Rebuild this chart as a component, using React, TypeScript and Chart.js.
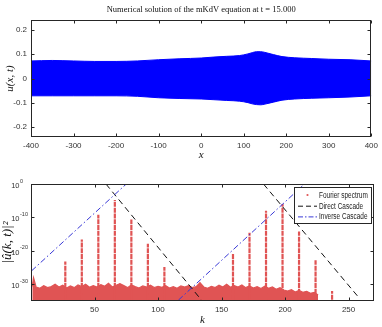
import React, { useEffect, useRef } from 'react';
import { Chart, registerables } from 'chart.js';
Chart.register(...registerables);

// ---------- Top panel data (envelope of the oscillating solution u(x,t)) ----------
const envX = [-400, -350, -300, -250, -200, -150, -100, -50, 0, 30, 60, 90, 110, 120, 130, 140, 150, 170, 190, 220, 260, 300, 350, 400];
const envUpper = [0.072, 0.074, 0.072, 0.070, 0.070, 0.072, 0.077, 0.081, 0.084, 0.088, 0.091, 0.094, 0.101, 0.106, 0.110, 0.110, 0.107, 0.098, 0.090, 0.085, 0.082, 0.079, 0.077, 0.072];
const envLower = [-0.071, -0.071, -0.071, -0.071, -0.071, -0.073, -0.079, -0.082, -0.084, -0.087, -0.090, -0.093, -0.099, -0.104, -0.107, -0.108, -0.105, -0.097, -0.089, -0.084, -0.081, -0.079, -0.076, -0.071];
const topXTicks = [-400, -300, -200, -100, 0, 100, 200, 300, 400];
const topYTicks = [-0.2, -0.1, 0, 0.1, 0.2];

// ---------- Bottom panel data (Fourier spectrum, exponents of 10) ----------
const noiseK = [1, 2, 4, 7, 10, 13, 16, 19, 22, 25, 28, 31, 34, 37, 40, 43, 46, 49, 52, 55, 58, 61, 64, 67, 70, 73, 76, 79, 82, 85, 88, 91, 94, 97, 100, 103, 106, 109, 112, 115, 118, 121, 124, 127, 130, 133, 136, 139, 142, 145, 148, 151, 154, 157, 160, 163, 166, 169, 172, 175, 178, 181, 184, 187, 190, 193, 196, 199, 202, 205, 208, 211, 214, 217, 220, 223, 226];
const noiseExp = [-30.6, -28.0, -30.8, -31.2, -30.4, -31.0, -30.7, -30.0, -30.8, -30.3, -31.1, -30.5, -31.0, -30.2, -30.7, -30.0, -30.9, -30.4, -30.8, -30.1, -30.6, -29.7, -30.8, -30.3, -29.8, -30.4, -31.0, -30.2, -30.7, -31.1, -30.5, -30.8, -30.3, -31.0, -30.6, -30.9, -30.4, -31.1, -30.7, -31.2, -30.5, -30.8, -30.4, -31.0, -30.7, -29.5, -30.8, -31.2, -30.6, -31.0, -30.3, -30.8, -30.0, -30.9, -30.4, -30.8, -30.2, -31.0, -30.5, -31.1, -30.7, -31.3, -30.6, -31.2, -30.8, -31.5, -31.0, -31.7, -32.0, -31.6, -32.3, -31.8, -32.4, -32.1, -32.7, -32.4, -33.2];
const peakK = [27, 40, 53, 66, 79, 92, 105, 159, 172, 185, 198, 211, 224, 237];
const peakExp = [-23.2, -16.6, -9.2, -4.8, -10.6, -17.9, -24.8, -20.9, -14.6, -8.0, -6.0, -14.2, -22.8, -32.0];
const peakBaseExp = -34.6;
const direct1K = [59, 135];
const direct1Exp = [0, -35.1];
const direct2K = [183, 257];
const direct2Exp = [0, -33.5];
const inverse1K = [0.4, 75];
const inverse1Exp = [-26, 0];
const inverse2K = [116, 215.3];
const inverse2Exp = [-34.75, 0];
const botXTicks = [50, 100, 150, 200, 250];
const botYExps = [0, -10, -20, -30];

const SANS = "'Liberation Sans', Arial, sans-serif";
const SERIF = "'Liberation Serif', 'DejaVu Serif', serif";
const AXIS = '#262626';
const TICK = '#333333';
const BLUE = '#0000ff';
const RED = '#e05454';
const LBLUE = '#3838d6';

function pts(ks: number[], es: number[]) {
  return ks.map((k, i) => ({ x: k, y: Math.pow(10, es[i]) }));
}

function narrowText(ctx: CanvasRenderingContext2D, text: string, x: number, y: number, sx: number) {
  ctx.save();
  ctx.translate(x, y);
  ctx.scale(sx, 1);
  ctx.fillText(text, 0, 0);
  ctx.restore();
}

function makeDecor(cfg: any) {
  return {
    id: 'decor',
    afterDraw(chart: any) {
      const { ctx, chartArea: a } = chart;
      const xs = chart.scales.x;
      const ys = chart.scales.y;
      ctx.save();
      ctx.setLineDash([]);
      ctx.strokeStyle = AXIS;
      ctx.lineWidth = 1;
      const L = Math.round(a.left) + 0.5;
      const R = Math.round(a.right) - 0.5;
      const T = Math.round(a.top) + 0.5;
      const B = Math.round(a.bottom) - 0.5;
      ctx.strokeRect(L, T, R - L, B - T);
      ctx.beginPath();
      cfg.xTicks.forEach((v: number) => {
        const p = Math.round(xs.getPixelForValue(v)) + 0.5;
        ctx.moveTo(p, B); ctx.lineTo(p, B - 3);
        ctx.moveTo(p, T); ctx.lineTo(p, T + 3);
      });
      cfg.yTicks.forEach((v: number) => {
        const p = Math.round(ys.getPixelForValue(v)) + 0.5;
        ctx.moveTo(L, p); ctx.lineTo(L + 3, p);
        ctx.moveTo(R, p); ctx.lineTo(R - 3, p);
      });
      ctx.stroke();

      ctx.fillStyle = '#111';
      if (cfg.title) {
        ctx.font = `8.5px ${SERIF}`;
        ctx.textAlign = 'center';
        ctx.textBaseline = 'middle';
        ctx.fillText(cfg.title, (a.left + a.right) / 2, cfg.titleY);
      }
      // x label
      ctx.font = `italic 11px ${SERIF}`;
      ctx.textAlign = 'center';
      ctx.textBaseline = 'middle';
      ctx.fillText(cfg.xLabel, (a.left + a.right) / 2, cfg.xLabelY);
      // y label
      ctx.save();
      ctx.translate(cfg.yLabelX, (a.top + a.bottom) / 2);
      ctx.rotate(-Math.PI / 2);
      ctx.font = `italic ${cfg.yLabelSize || 11}px ${SERIF}`;
      ctx.fillText(cfg.yLabel, 0, 0);
      ctx.restore();

      // log tick labels
      if (cfg.logExps) {
        ctx.fillStyle = TICK;
        cfg.logExps.forEach((e: number) => {
          const p = ys.getPixelForValue(Math.pow(10, e));
          ctx.font = `7.5px ${SANS}`;
          ctx.textAlign = 'right';
          ctx.textBaseline = 'middle';
          ctx.fillText('10', 19.5, p + 2);
          ctx.font = `5.5px ${SANS}`;
          ctx.textAlign = 'left';
          ctx.fillText(String(e), 20, p - 3);
        });
      }

      // legend
      if (cfg.legend) {
        const g = cfg.legend;
        ctx.fillStyle = '#ffffff';
        ctx.fillRect(g.x, g.y, g.w, g.h);
        ctx.strokeStyle = AXIS;
        ctx.lineWidth = 1;
        ctx.strokeRect(g.x + 0.5, g.y + 0.5, g.w, g.h);
        g.items.forEach((it: any, i: number) => {
          const yy = g.y + 8 + i * 10.7;
          const x0 = g.x + 4;
          const x1 = g.x + 23;
          if (it.kind === 'dot') {
            ctx.fillStyle = it.color;
            ctx.beginPath();
            ctx.arc((x0 + x1) / 2, yy, 1.1, 0, Math.PI * 2);
            ctx.fill();
          } else {
            ctx.strokeStyle = it.color;
            ctx.lineWidth = 1;
            ctx.setLineDash(it.dash);
            ctx.beginPath();
            ctx.moveTo(x0, yy + 0.5);
            ctx.lineTo(x1, yy + 0.5);
            ctx.stroke();
            ctx.setLineDash([]);
          }
          ctx.fillStyle = '#222';
          ctx.font = `8.5px ${SANS}`;
          ctx.textAlign = 'left';
          ctx.textBaseline = 'middle';
          narrowText(ctx, it.text, g.x + 25, yy + 0.5, 0.76);
        });
      }
      ctx.restore();
    },
  };
}

function baseScale(extra: any) {
  return Object.assign(
    {
      grid: { display: false, drawTicks: false },
      border: { display: false },
    },
    extra
  );
}

export default function App() {
  const topRef = useRef<HTMLCanvasElement>(null);
  const botRef = useRef<HTMLCanvasElement>(null);

  useEffect(() => {
    const top = new Chart(topRef.current as HTMLCanvasElement, {
      type: 'scatter',
      data: {
        datasets: [
          {
            data: envX.map((x, i) => ({ x, y: envUpper[i] })),
            showLine: true,
            borderColor: BLUE,
            backgroundColor: BLUE,
            borderWidth: 1,
            pointRadius: 0,
            fill: '+1',
            cubicInterpolationMode: 'monotone',
          } as any,
          {
            data: envX.map((x, i) => ({ x, y: envLower[i] })),
            showLine: true,
            borderColor: BLUE,
            backgroundColor: BLUE,
            borderWidth: 1,
            pointRadius: 0,
            fill: false,
            cubicInterpolationMode: 'monotone',
          } as any,
        ],
      },
      options: {
        animation: false,
        responsive: false,
        devicePixelRatio: 1,
        events: [],
        layout: { padding: { top: 20, right: 8, left: 0, bottom: 0 } },
        plugins: { legend: { display: false }, tooltip: { enabled: false } },
        scales: {
          x: baseScale({
            type: 'linear',
            min: -400,
            max: 400,
            afterBuildTicks: (s: any) => { s.ticks = topXTicks.map((v) => ({ value: v })); },
            afterFit: (s: any) => { s.height = 28; },
            ticks: { font: { family: SANS, size: 8 }, color: TICK, padding: 4, maxRotation: 0, autoSkip: false, callback: (v: any) => String(v) },
          }),
          y: baseScale({
            type: 'linear',
            min: -0.24,
            max: 0.24,
            afterBuildTicks: (s: any) => { s.ticks = topYTicks.map((v) => ({ value: v })); },
            afterFit: (s: any) => { s.width = 31; },
            ticks: { font: { family: SANS, size: 8 }, color: TICK, padding: 4, autoSkip: false, callback: (v: any) => (Number(v) === 0 ? '0' : Number(v).toFixed(1)) },
          }),
        },
      } as any,
      plugins: [
        makeDecor({
          xTicks: topXTicks,
          yTicks: topYTicks,
          title: 'Numerical solution of the mKdV equation at t = 15.000',
          titleY: 10,
          xLabel: 'x',
          xLabelY: 155,
          yLabel: 'u(x, t)',
          yLabelX: 10,
        }),
      ],
    });

    const peakData: any[] = [];
    peakK.forEach((k, i) => {
      peakData.push({ x: k, y: Math.pow(10, peakBaseExp) });
      peakData.push({ x: k, y: Math.pow(10, peakExp[i]) });
      peakData.push({ x: k, y: null });
    });
    const directData: any[] = [...pts(direct1K, direct1Exp), { x: direct1K[1], y: null }, ...pts(direct2K, direct2Exp)];
    const inverseData: any[] = [...pts(inverse1K, inverse1Exp), { x: inverse1K[1], y: null }, ...pts(inverse2K, inverse2Exp)];

    const bot = new Chart(botRef.current as HTMLCanvasElement, {
      type: 'scatter',
      data: {
        datasets: [
          { data: inverseData, showLine: true, borderColor: LBLUE, borderWidth: 1, borderDash: [6, 2.5, 1.5, 2.5], pointRadius: 0, fill: false, order: 0, spanGaps: false } as any,
          { data: directData, showLine: true, borderColor: '#111', borderWidth: 1, borderDash: [6, 4], pointRadius: 0, fill: false, order: 0, spanGaps: false } as any,
          { data: peakData, showLine: true, borderColor: RED, borderWidth: 2.2, borderDash: [5, 0.8], pointRadius: 0, fill: false, order: 1, spanGaps: false } as any,
          { data: pts(noiseK, noiseExp), showLine: true, borderColor: RED, backgroundColor: RED, borderWidth: 1.2, pointRadius: 0, fill: 'start', order: 2 } as any,
        ],
      },
      options: {
        animation: false,
        responsive: false,
        devicePixelRatio: 1,
        events: [],
        layout: { padding: { top: 19, right: 8, left: 0, bottom: 0 } },
        plugins: { legend: { display: false }, tooltip: { enabled: false } },
        scales: {
          x: baseScale({
            type: 'linear',
            min: 0,
            max: 270,
            afterBuildTicks: (s: any) => { s.ticks = botXTicks.map((v) => ({ value: v })); },
            afterFit: (s: any) => { s.height = 26; },
            ticks: { font: { family: SANS, size: 8 }, color: TICK, padding: 4, maxRotation: 0, autoSkip: false, callback: (v: any) => String(v) },
          }),
          y: baseScale({
            type: 'logarithmic',
            min: 1e-35,
            max: 1,
            afterBuildTicks: (s: any) => { s.ticks = botYExps.map((e) => ({ value: Math.pow(10, e) })); },
            afterFit: (s: any) => { s.width = 31; },
            ticks: { display: false },
          }),
        },
      } as any,
      plugins: [
        makeDecor({
          xTicks: botXTicks,
          yTicks: botYExps.map((e) => Math.pow(10, e)),
          xLabel: 'k',
          xLabelY: 155,
          yLabel: '|û(k, t)|²',
          yLabelX: 8,
          yLabelSize: 13,
          logExps: botYExps,
          legend: {
            x: 294,
            y: 22,
            w: 77,
            h: 36,
            items: [
              { kind: 'dot', color: RED, text: 'Fourier spectrum' },
              { kind: 'line', color: '#111', dash: [5, 3], text: 'Direct Cascade' },
              { kind: 'line', color: LBLUE, dash: [5, 2, 1.5, 2], text: 'Inverse Cascade' },
            ],
          },
        }),
      ],
    });

    return () => {
      top.destroy();
      bot.destroy();
    };
  }, []);

  return (
    <div style={{ position: 'absolute', left: 0, top: 0, width: 382, height: 327, background: '#fff', overflow: 'hidden' }}>
      <canvas ref={topRef} width={382} height={165} style={{ position: 'absolute', left: 0, top: 0, width: 382, height: 165 }} />
      <canvas ref={botRef} width={382} height={162} style={{ position: 'absolute', left: 0, top: 165, width: 382, height: 162 }} />
    </div>
  );
}
